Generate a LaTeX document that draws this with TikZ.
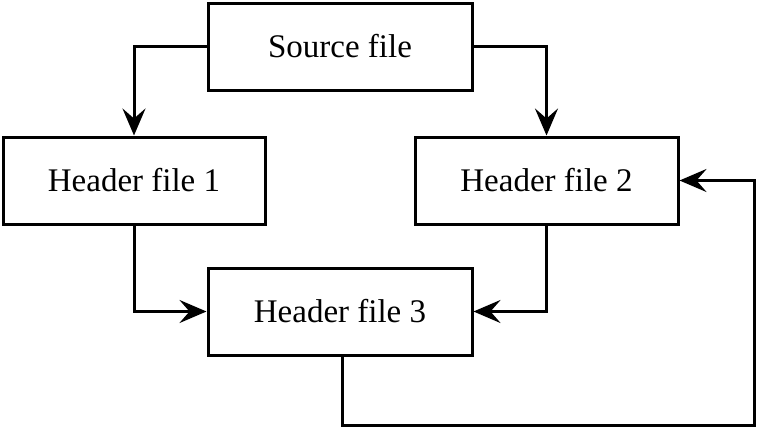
\documentclass[tikz,border=0pt]{standalone}
\usepackage{fontspec}
\setmainfont{Liberation Serif}
\usetikzlibrary{arrows.meta}
\begin{document}
\begin{tikzpicture}[x=1pt,y=-1pt,
  filebox/.style={draw, line width=3pt, minimum width=264pt, minimum height=87pt, inner sep=0pt, font=\fontsize{33}{40}\selectfont},
  conn/.style={line width=3pt, -{Stealth[length=27pt,width=23pt,inset=10pt]}}]
\useasboundingbox (0,0) rectangle (757,429);
\node[filebox] (src) at (340,46.5) {Source file};
\node[filebox, minimum width=262pt] (h1) at (134,180.5) {Header file 1};
\node[filebox, minimum width=263pt] (h2) at (546.5,180.5) {Header file 2};
\node[filebox] (h3) at (340,311.5) {Header file 3};
\coordinate (f1) at (342,425);
\coordinate (f2) at (754,425);
\draw[conn] (src.west) -| (h1.north);
\draw[conn] (src.east) -| (h2.north);
\draw[conn] (h1.south) |- (h3.west);
\draw[conn] (h2.south) |- (h3.east);
\draw[conn] (h3.south -| f1) -- (f1) -- (f2) |- (h2.east);
\end{tikzpicture}
\end{document}
